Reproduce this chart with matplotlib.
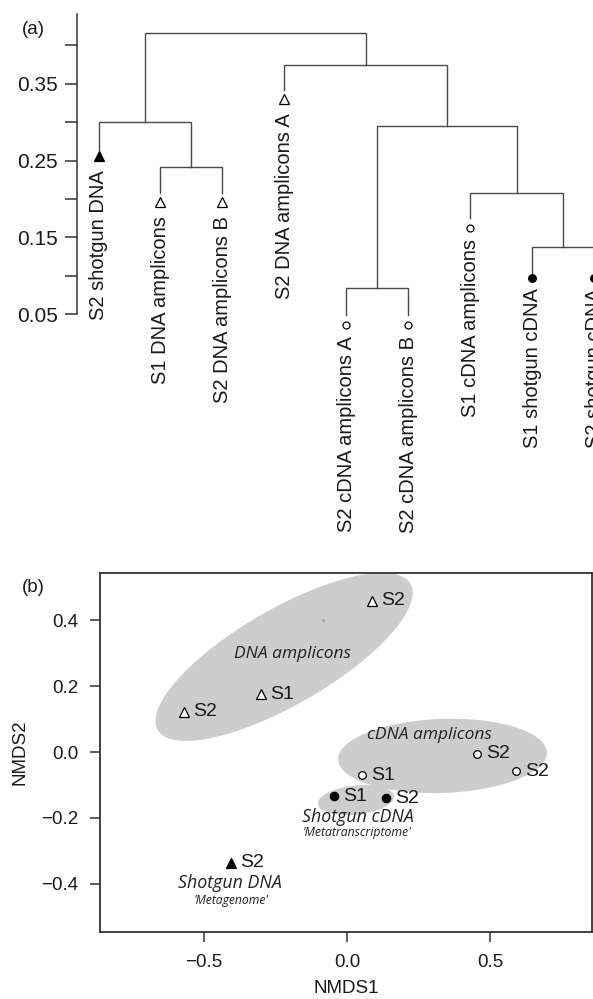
import numpy as np
import matplotlib.pyplot as plt
from matplotlib import transforms
from matplotlib.patches import Polygon

plt.rcParams['font.family'] = ['Liberation Sans', 'DejaVu Sans']

# ---- (a) dendrogram data
leaf_names = ['S2 shotgun DNA', 'S1 DNA amplicons', 'S2 DNA amplicons B',
              'S2 DNA amplicons A', 'S2 cDNA amplicons A', 'S2 cDNA amplicons B',
              'S1 cDNA amplicons', 'S1 shotgun cDNA', 'S2 shotgun cDNA']
leaf_kind = ['dna_shot', 'dna_amp', 'dna_amp', 'dna_amp', 'cdna_amp',
             'cdna_amp', 'cdna_amp', 'cdna_shot', 'cdna_shot']
leaf_end = [0.264, 0.208, 0.208, 0.342, 0.049, 0.049, 0.175, 0.1035, 0.1035]
# hclust style merges: negative = leaf number, positive = earlier merge row
merge = [(-2, -3), (-1, 1), (-5, -6), (-8, -9), (-7, 4), (3, 5), (-4, 6), (2, 7)]
merge_h = [0.2417, 0.3004, 0.0839, 0.1374, 0.2078, 0.2952, 0.3748, 0.4165]

# ---- (b) NMDS data
dna_amp_x = [0.087, -0.30, -0.57]
dna_amp_y = [0.459, 0.176, 0.122]
dna_amp_lab = ['S2', 'S1', 'S2']
cdna_amp_x = [0.455, 0.591, 0.052]
cdna_amp_y = [-0.006, -0.058, -0.070]
cdna_amp_lab = ['S2', 'S2', 'S1']
cdna_shot_x = [-0.045, 0.136]
cdna_shot_y = [-0.134, -0.140]
cdna_shot_lab = ['S1', 'S2']
dna_shot_x = [-0.406]
dna_shot_y = [-0.337]
dna_shot_lab = ['S2']

# ellipses: centre, semi axis vectors (data units)
ell_centre = [(-0.220, 0.289), (0.334, -0.012), (0.031, -0.146)]
ell_u = [(0.442, 0.222), (0.365, 0.011), (0.133, 0.012)]
ell_v = [(-0.084, 0.126), (-0.0045, 0.1125), (-0.005, 0.044)]

fig = plt.figure(figsize=(5.93, 9.99), dpi=100)
W, H = 593., 999.

line_c = '#4a4a4a'
txt_c = '#1a1a1a'

# ================= (a)
ax = fig.add_axes([77/W, 1-314/H, (593-77)/W, 300/H])
ax.set_xlim(1 + (77-98.5)/62, 1 + (593-98.5)/62)
ax.set_ylim(0.05, 0.441)
for s in ['top', 'right', 'bottom']:
    ax.spines[s].set_visible(False)
ax.spines['left'].set_color('#333333')
ax.spines['left'].set_linewidth(1.1)
ax.set_xticks([])
yt = [0.05, 0.10, 0.15, 0.20, 0.25, 0.30, 0.35, 0.40]
ax.set_yticks(yt)
ax.set_yticklabels(['0.05', '', '0.15', '', '0.25', '', '0.35', ''])
ax.tick_params(axis='y', length=9, width=1.1, color='#333333', pad=5,
               labelsize=15, labelcolor=txt_c)

node_x, node_h = {}, {}
def pos(c):
    if c < 0:
        return c * -1.0, leaf_end[-c-1]
    return node_x[c], node_h[c]

for k, (a, b) in enumerate(merge, start=1):
    xa, ha = pos(a)
    xb, hb = pos(b)
    h = merge_h[k-1]
    ax.plot([xa, xa, xb, xb], [ha, h, h, hb], color=line_c, lw=1.0,
            clip_on=False, solid_joinstyle='miter')
    node_x[k] = (xa + xb) / 2
    node_h[k] = h

kind_style = {
    'dna_shot': dict(marker='^', ms=6.5, mfc='black', gap=6, lgap=20),
    'dna_amp': dict(marker='^', ms=6.5, mfc='white', gap=9, lgap=23),
    'cdna_amp': dict(marker='o', ms=5.0, mfc='white', gap=10, lgap=21),
    'cdna_shot': dict(marker='o', ms=5.5, mfc='black', gap=5, lgap=15),
}
for i, (name, kind) in enumerate(zip(leaf_names, leaf_kind)):
    st = kind_style[kind]
    tr_m = transforms.offset_copy(ax.transData, fig=fig, x=0, y=-st['gap'], units='dots')
    tr_t = transforms.offset_copy(ax.transData, fig=fig, x=0, y=-st['lgap'], units='dots')
    ax.plot([i+1], [leaf_end[i]], marker=st['marker'], ms=st['ms'], mfc=st['mfc'],
            mec='black', mew=0.9, ls='none', transform=tr_m, clip_on=False)
    ax.text(i+1, leaf_end[i], name, rotation=90, ha='center', va='top',
            fontsize=14.5, color=txt_c, transform=tr_t, clip_on=False)

fig.text(33/W, 1-30/H, '(a)', ha='center', va='center', fontsize=13.5, color=txt_c)

# ================= (b)
bx = fig.add_axes([100/W, 1-932/H, 492/W, 359/H])
bx.set_xlim(-0.864, 0.857)
bx.set_ylim(-0.547, 0.544)
for s in bx.spines.values():
    s.set_color('#333333')
    s.set_linewidth(1.3)
bx.set_xticks([-0.5, 0.0, 0.5])
bx.set_yticks([-0.4, -0.2, 0.0, 0.2, 0.4])
bx.xaxis.set_major_formatter(plt.FuncFormatter(lambda v, p: f'{v:.1f}'.replace('-', '\u2212')))
bx.yaxis.set_major_formatter(plt.FuncFormatter(lambda v, p: f'{v:.1f}'.replace('-', '\u2212')))
bx.tick_params(length=7.5, width=1.1, color='#333333', pad=8, labelsize=13.5,
               labelcolor=txt_c)
bx.set_xlabel('NMDS1', fontsize=13.5, color=txt_c, labelpad=7)
bx.set_ylabel('NMDS2', fontsize=13.5, color=txt_c, labelpad=9)

t = np.linspace(0, 2*np.pi, 200)
for c, u, v in zip(ell_centre, ell_u, ell_v):
    px = c[0] + u[0]*np.cos(t) + v[0]*np.sin(t)
    py = c[1] + u[1]*np.cos(t) + v[1]*np.sin(t)
    bx.add_patch(Polygon(np.column_stack([px, py]), closed=True,
                         facecolor='#cdcdcd', edgecolor='none', zorder=1))
bx.plot([-0.084], [0.401], 'o', ms=2.5, color='#aaaaaa', mec='none', zorder=2)

groups = [
    (dna_amp_x, dna_amp_y, dna_amp_lab, '^', 'white', 7.0),
    (cdna_amp_x, cdna_amp_y, cdna_amp_lab, 'o', 'white', 5.5),
    (cdna_shot_x, cdna_shot_y, cdna_shot_lab, 'o', 'black', 6.0),
    (dna_shot_x, dna_shot_y, dna_shot_lab, '^', 'black', 6.5),
]
for gx, gy, gl, mk, fc, ms in groups:
    bx.plot(gx, gy, ls='none', marker=mk, ms=ms, mfc=fc, mec='black', mew=0.9, zorder=3)
    for x, y, l in zip(gx, gy, gl):
        bx.annotate(l, (x, y), xytext=(6.5, 0), textcoords='offset points',
                    ha='left', va='center', fontsize=14, color=txt_c, zorder=4)

it = dict(family=['Open Sans', 'DejaVu Sans'], style='italic', color='#222222',
          ha='center', va='center', zorder=4)
bx.text(-0.189, 0.298, 'DNA amplicons', fontsize=12.5, **it)
bx.text(0.290, 0.052, 'cDNA amplicons', fontsize=12.5, **it)
bx.text(0.038, -0.198, 'Shotgun cDNA', fontsize=12.8, **it)
bx.text(0.035, -0.246, "'Metatranscriptome'", fontsize=8.8, **it)
bx.text(-0.409, -0.398, 'Shotgun DNA', fontsize=12.8, **it)
bx.text(-0.406, -0.450, "'Metagenome'", fontsize=8.7, **it)

fig.text(33/W, 1-588/H, '(b)', ha='center', va='center', fontsize=13.5, color=txt_c)

fig.savefig('out.png', dpi=100)
